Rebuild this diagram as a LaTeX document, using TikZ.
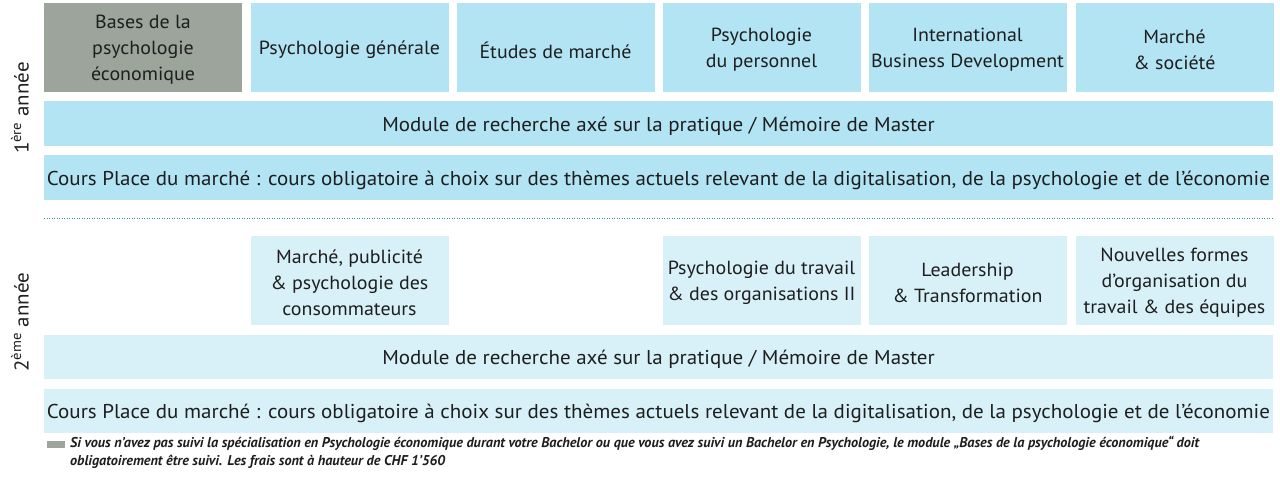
\documentclass[tikz,border=0pt]{standalone}
\usepackage{fontspec}
\setmainfont{PT Sans}[FakeStretch=1.05]
\newfontfamily\notefont{PT Sans}
\definecolor{ybl}{HTML}{B2E4F3}
\definecolor{ybp}{HTML}{D8F1F8}
\definecolor{ygr}{HTML}{9CA49C}
\definecolor{ytx}{HTML}{1E1E1E}
\definecolor{ydot}{HTML}{3B8C9B}
\begin{document}
\begin{tikzpicture}[x=1pt,y=-1pt,
  boxbase/.style={inner sep=0pt, minimum width=198pt, minimum height=89pt},
  mod/.style={boxbase, fill=ybl},
  modtwo/.style={boxbase, fill=ybp},
  modgray/.style={boxbase, fill=ygr},
  wide/.style={inner sep=0pt, fill=ybl, minimum width=1229pt, minimum height=45pt},
  widetwo/.style={inner sep=0pt, fill=ybp, minimum width=1229pt, minimum height=44pt},
  txt/.style={inner sep=0pt, align=center, text=ytx, font=\fontsize{19}{26}\selectfont},
  widetxt/.style={inner sep=0pt, align=center, text=ytx, font=\fontsize{20}{26}\selectfont},
  yearlab/.style={widetxt, rotate=90},
  note/.style={inner sep=0pt, anchor=base west, text=ytx, font=\notefont\fontsize{14.2}{16}\bfseries\itshape\selectfont}
]
\useasboundingbox (0,0) rectangle (1280,479);
% Year 1
\node[modgray] (a1) at (143,47.5) {};
\node[mod] (a2) at (349.5,47.5) {};
\node[mod] (a3) at (555.5,47.5) {};
\node[mod] (a4) at (761.5,47.5) {};
\node[mod] (a5) at (967.5,47.5) {};
\node[mod] (a6) at (1174.5,47.5) {};
\node[txt] (a1t) at ([yshift=-2.5pt]a1.center) {Bases de la\\psychologie\\économique};
\node[txt] (a2t) at ([yshift=-2.5pt]a2.center) {Psychologie générale};
\node[txt] (a3t) at ([yshift=-2.5pt]a3.center) {Études de marché};
\node[txt] (a4t) at ([yshift=-2.5pt]a4.center) {Psychologie\\du personnel};
\node[txt] (a5t) at ([yshift=-2.5pt]a5.center) {International\\Business Development};
\node[txt] (a6t) at ([yshift=-2.5pt]a6.center) {Marché\\\& société};
\node[wide] (r1) at (658.5,123.5) {};
\node[widetxt] (r1t) at ([yshift=-2.5pt]r1.center) {Module de recherche axé sur la pratique / Mémoire de Master};
\node[wide] (c1) at (658.5,177.5) {};
\node[widetxt] (c1t) at ([yshift=-2.5pt]c1.center) {Cours Place du marché : cours obligatoire à choix sur des thèmes actuels relevant de la digitalisation, de la psychologie et de l’économie};
\node[yearlab] (y1) at (20,108) {1\textsuperscript{ère} année};
% separator
\coordinate (d1) at (44,218);
\coordinate (d2) at (1273,218);
\draw[ydot, line width=1pt, dash pattern=on 1pt off 1.5pt] (d1) -- (d2);
% Year 2
\node[modtwo] (b2) at (349.5,280.5) {};
\node[modtwo] (b4) at (761.5,280.5) {};
\node[modtwo] (b5) at (967.5,280.5) {};
\node[modtwo] (b6) at (1174.5,280.5) {};
\node[txt] (b2t) at ([yshift=-2.5pt]b2.center) {Marché, publicité\\\& psychologie des\\consommateurs};
\node[txt] (b4t) at ([yshift=-2.5pt]b4.center) {Psychologie du travail\\\& des organisations II};
\node[txt] (b5t) at ([yshift=-2.5pt]b5.center) {Leadership\\\& Transformation};
\node[txt] (b6t) at ([yshift=-2.5pt]b6.center) {Nouvelles formes\\d’organisation du\\travail \& des équipes};
\node[widetwo] (r2) at (658.5,357) {};
\node[widetxt] (r2t) at ([yshift=-2.5pt]r2.center) {Module de recherche axé sur la pratique / Mémoire de Master};
\node[widetwo] (c2) at (658.5,411) {};
\node[widetxt] (c2t) at ([yshift=-2.5pt]c2.center) {Cours Place du marché : cours obligatoire à choix sur des thèmes actuels relevant de la digitalisation, de la psychologie et de l’économie};
\node[yearlab] (y2) at (20,322) {2\textsuperscript{ème} année};
% footnote
\node[fill=ygr, minimum width=18pt, minimum height=6.5pt, inner sep=0pt] (sq) at (56,444.5) {};
\node[note] (n1) at (70,447) {Si vous n’avez pas suivi la spécialisation en Psychologie économique durant votre Bachelor ou que vous avez suivi un Bachelor en Psychologie, le module „Bases de la psychologie économique“ doit};
\node[note] (n2) at (70,465) {obligatoirement être suivi. Les frais sont à hauteur de CHF 1’560};
\end{tikzpicture}
\end{document}
